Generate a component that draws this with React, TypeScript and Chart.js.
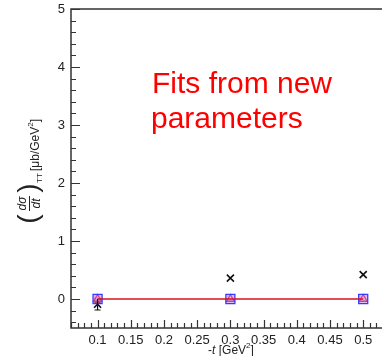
import React, { useEffect, useRef } from "react";
import { Chart, registerables } from "chart.js";

Chart.register(...registerables);

// -t values [GeV^2]
const tValues = [0.1, 0.3, 0.5];
// black crosses (data)
const crossValues = [-0.09, 0.36, 0.42];
const crossErrLow = [-0.19, 0.36, 0.42];
const crossErrHigh = [0.0, 0.36, 0.42];
// blue open squares
const squareValues = [0, 0, 0];
// pink triangles
const triangleValues = [0, 0, 0];
// dark red star
const starT = [0.1];
const starValues = [-0.03];
// red fit line
const fitValues = [0, 0, 0];

const xTickLabels = [0.1, 0.15, 0.2, 0.25, 0.3, 0.35, 0.4, 0.45, 0.5];
const yTickLabels = [0, 1, 2, 3, 4, 5];
const xMin = 0.06;
const xMax = 0.5167;
const yMin = -0.5;
const yMax = 5;

const FONT = "'Liberation Sans', Arial, Helvetica, sans-serif";

const rootStyle: any = {
  id: "rootStyle",
  afterDatasetsDraw(chart: any) {
    const { ctx, scales } = chart;
    const xs = scales.x;
    const ys = scales.y;
    ctx.save();
    ctx.strokeStyle = "#111";
    ctx.lineWidth = 1.2;
    for (let i = 0; i < tValues.length; i++) {
      if (crossErrLow[i] === crossErrHigh[i]) continue;
      const px = xs.getPixelForValue(tValues[i]);
      const y1 = ys.getPixelForValue(crossErrLow[i]);
      const y2 = ys.getPixelForValue(crossErrHigh[i]);
      ctx.beginPath();
      ctx.moveTo(px, y1);
      ctx.lineTo(px, y2);
      ctx.moveTo(px - 3, y1);
      ctx.lineTo(px + 3, y1);
      ctx.stroke();
    }
    ctx.restore();
  },
  afterDraw(chart: any) {
    const { ctx, chartArea, scales } = chart;
    const xs = scales.x;
    const ys = scales.y;
    const { left, top, bottom } = chartArea;
    const edge = chart.width + 2;
    ctx.save();
    // frame (left, top, bottom; right edge lies outside the picture)
    ctx.strokeStyle = "#333";
    ctx.lineWidth = 1.5;
    ctx.beginPath();
    ctx.moveTo(edge, top);
    ctx.lineTo(left, top);
    ctx.lineTo(left, bottom);
    ctx.lineTo(edge, bottom);
    ctx.stroke();
    // y ticks
    ctx.lineWidth = 1.2;
    ctx.beginPath();
    for (let k = -2; k <= 25; k++) {
      const v = k * 0.2;
      if (v < yMin || v > yMax) continue;
      const major = Math.abs(v - Math.round(v)) < 1e-6;
      const py = Math.round(ys.getPixelForValue(v)) + 0.5;
      ctx.moveTo(left, py);
      ctx.lineTo(left + (major ? 9 : 5), py);
    }
    // x ticks
    for (let k = 6; k <= 53; k++) {
      const v = k / 100;
      const major = k % 5 === 0;
      const px = Math.round(xs.getPixelForValue(v)) + 0.5;
      ctx.moveTo(px, bottom);
      ctx.lineTo(px, bottom - (major ? 8 : 5));
    }
    ctx.stroke();

    // x title
    ctx.fillStyle = "#222";
    ctx.textBaseline = "alphabetic";
    ctx.textAlign = "left";
    const xc = 231;
    const by = 354;
    ctx.font = `12px ${FONT}`;
    const p1 = "-";
    const p3 = " [GeV";
    const p5 = "]";
    const w1 = ctx.measureText(p1).width;
    const w3 = ctx.measureText(p3).width;
    const w5 = ctx.measureText(p5).width;
    ctx.font = `italic 12px ${FONT}`;
    const p2 = "t";
    const w2 = ctx.measureText(p2).width;
    ctx.font = `8px ${FONT}`;
    const w4 = ctx.measureText("2").width;
    let x0 = xc - (w1 + w2 + w3 + w4 + w5) / 2;
    ctx.font = `12px ${FONT}`;
    ctx.fillText(p1, x0, by);
    x0 += w1;
    ctx.font = `italic 12px ${FONT}`;
    ctx.fillText(p2, x0, by);
    x0 += w2;
    ctx.font = `12px ${FONT}`;
    ctx.fillText(p3, x0, by);
    x0 += w3;
    ctx.font = `8px ${FONT}`;
    ctx.fillText("2", x0, by - 6);
    x0 += w4;
    ctx.font = `12px ${FONT}`;
    ctx.fillText(p5, x0, by);

    // y title (rotated)
    ctx.save();
    ctx.translate(29, 222);
    ctx.rotate(-Math.PI / 2);
    ctx.fillStyle = "#222";
    ctx.strokeStyle = "#222";
    ctx.textBaseline = "middle";
    ctx.textAlign = "center";
    ctx.font = `28px ${FONT}`;
    ctx.fillText("(", 3, 0);
    ctx.fillText(")", 34, 0);
    ctx.font = `italic 12px ${FONT}`;
    ctx.fillText("d\u03C3", 18.5, -6);
    ctx.fillText("dt", 18.5, 7.5);
    ctx.lineWidth = 1;
    ctx.beginPath();
    ctx.moveTo(11, 0.5);
    ctx.lineTo(26, 0.5);
    ctx.stroke();
    ctx.font = `8px ${FONT}`;
    ctx.textAlign = "left";
    ctx.fillText("TT", 39, 11);
    ctx.font = `12px ${FONT}`;
    ctx.textBaseline = "alphabetic";
    let u = 51;
    const ua = "[\u03BCb/GeV";
    ctx.fillText(ua, u, 10);
    u += ctx.measureText(ua).width;
    ctx.font = `8px ${FONT}`;
    ctx.fillText("2", u, 4);
    u += ctx.measureText("2").width;
    ctx.font = `12px ${FONT}`;
    ctx.fillText("]", u, 10);
    ctx.restore();

    // annotation
    ctx.fillStyle = "#ff0000";
    ctx.font = `30px ${FONT}`;
    ctx.textAlign = "left";
    ctx.textBaseline = "alphabetic";
    ctx.fillText("Fits from new", 152, 93);
    ctx.fillText("parameters", 151, 128);
    ctx.restore();
  },
};

export default function App() {
  const ref = useRef<HTMLCanvasElement | null>(null);
  useEffect(() => {
    if (!ref.current) return;
    const pts = (xs: number[], ys: number[]) => xs.map((x, i) => ({ x, y: ys[i] }));
    const chart = new Chart(ref.current, {
      type: "scatter",
      data: {
        datasets: [
          {
            type: "line",
            label: "fit",
            data: pts(tValues, fitValues),
            borderColor: "#d8101c",
            borderWidth: 1.5,
            pointRadius: 0,
            fill: false,
          } as any,
          {
            label: "squares",
            data: pts(tValues, squareValues),
            pointStyle: "rect",
            pointRadius: 6.4,
            borderColor: "#3a3aff",
            backgroundColor: "rgba(170,110,220,0.45)",
            borderWidth: 1.3,
          },
          {
            label: "triangles",
            data: pts(tValues, triangleValues),
            pointStyle: "triangle",
            pointRadius: 4.5,
            borderColor: "#e0205a",
            backgroundColor: "rgba(255,235,245,0.85)",
            borderWidth: 1.3,
          },
          {
            label: "star",
            data: pts(starT, starValues),
            pointStyle: "star",
            pointRadius: 4,
            borderColor: "#8b1a2a",
            backgroundColor: "#8b1a2a",
            borderWidth: 1.5,
          },
          {
            label: "crosses",
            data: pts(tValues, crossValues),
            pointStyle: "crossRot",
            pointRadius: 5,
            borderColor: "#111",
            borderWidth: 1.6,
          },
        ],
      },
      options: {
        animation: false,
        responsive: false,
        devicePixelRatio: 1,
        layout: { padding: { top: 9, right: 0, left: 0, bottom: 0 } },
        plugins: { legend: { display: false }, tooltip: { enabled: false } },
        scales: {
          x: {
            type: "linear",
            min: xMin,
            max: xMax,
            grid: { display: false, drawTicks: false },
            border: { display: false },
            afterBuildTicks: (s: any) => {
              s.ticks = xTickLabels.map((v) => ({ value: v }));
            },
            afterFit: (s: any) => {
              s.height = 28;
              s.paddingLeft = 0;
              s.paddingRight = 0;
            },
            ticks: {
              padding: 5,
              color: "#222",
              font: { family: FONT, size: 13 },
              maxRotation: 0,
              autoSkip: false,
              callback: (v: any) => String(Number(Number(v).toFixed(2))),
            },
          },
          y: {
            type: "linear",
            min: yMin,
            max: yMax,
            grid: { display: false, drawTicks: false },
            border: { display: false },
            afterBuildTicks: (s: any) => {
              s.ticks = yTickLabels.map((v) => ({ value: v }));
            },
            afterFit: (s: any) => {
              s.width = 71;
              s.paddingTop = 0;
              s.paddingBottom = 0;
            },
            ticks: {
              padding: 6,
              color: "#222",
              font: { family: FONT, size: 13 },
              callback: (v: any) => String(v),
            },
          },
        },
      },
      plugins: [rootStyle],
    });
    return () => chart.destroy();
  }, []);
  return (
    <div
      style={{
        position: "fixed",
        left: 0,
        top: 0,
        width: 382,
        height: 356,
        overflow: "hidden",
        background: "#fff",
      }}
    >
      <canvas ref={ref} width={382} height={356} style={{ display: "block" }} />
    </div>
  );
}
